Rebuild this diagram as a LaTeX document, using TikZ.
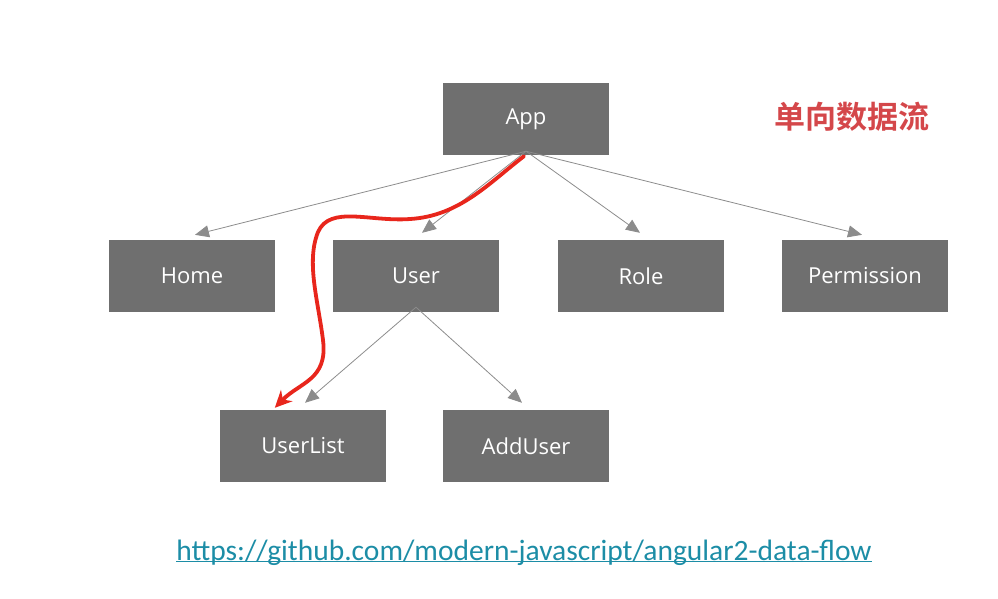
\documentclass[tikz,border=0pt]{standalone}
\usepackage{fontspec}
\setmainfont{Open Sans}
\newfontfamily\cjkbold[BoldFont={Noto Sans CJK SC Bold}]{Noto Sans CJK SC}
\newfontfamily\urlfont{Carlito}
\usepackage{xcolor}
\usetikzlibrary{arrows.meta, calc}

\definecolor{boxgray}{HTML}{6F6F6F}
\definecolor{linegray}{HTML}{8C8C8C}
\definecolor{flowred}{HTML}{E8261C}
\definecolor{titlered}{HTML}{D4474A}
\definecolor{urlteal}{HTML}{1C8DA6}

\tikzset{
	comp/.style={fill=boxgray, text=white, minimum width=166pt, minimum height=72pt, inner sep=0pt, font=\fontsize{22}{26}\selectfont},
	link/.style={draw=linegray, line width=0.8pt, -{Triangle[length=14pt,width=12pt,fill=linegray]}},
}

\begin{document}
\begin{tikzpicture}[x=1pt,y=-1pt]

	\useasboundingbox (0,0) rectangle (998,598);

	\node [comp] (app) at (526,119) {App};
	\node [comp] (home) at (192,276) {Home};
	\node [comp] (user) at (416,276) {User};
	\node [comp] (role) at (641,276) {Role};
	\node [comp] (perm) at (865,276) {Permission};
	\node [comp] (list) at (303,446) {UserList};
	\node [comp] (add) at (526,446) {AddUser};

	\coordinate (appout) at ($(app.south)+(0,-4)$);
	\coordinate (userout) at ($(user.south)+(0,-5)$);

	\draw [link] (appout) -- ($(home.north)+(3,-5)$);
	\draw [link] (appout) -- ($(user.north)+(6,-7)$);
	\draw [link] (appout) -- ($(role.north)+(-1,-7)$);
	\draw [link] (appout) -- ($(perm.north)+(-3,-5)$);
	\draw [link] (userout) -- ($(list.north)+(2,-7)$);
	\draw [link] (userout) -- ($(add.north)+(-4,-7)$);

	% data flow
	\draw [flowred, line width=3.8pt, line cap=round, -{Stealth[length=17pt,width=16pt]}]
		($(app.south)+(-2,1)$) .. controls (490,182) and (460,216) .. (410,219)
		.. controls (370,222) and (330,205) .. (318,232)
		.. controls (306,262) and (318,300) .. (323,340)
		.. controls (328,380) and (300,382) .. ($(list.north west)+(55,-2)$);

	\node [text=titlered, font=\cjkbold\bfseries\fontsize{31}{34}\selectfont] (title) at (852,117) {单向数据流};

	\node [text=urlteal, font=\urlfont\fontsize{29.5}{32}\selectfont, inner sep=0pt] (url) at (524,553) {https://github.com/modern-javascript/angular2-data-flow};
	\draw [urlteal, line width=1pt] ($(url.south west)+(0,-4)$) -- ($(url.south east)+(0,-4)$);

\end{tikzpicture}
\end{document}
